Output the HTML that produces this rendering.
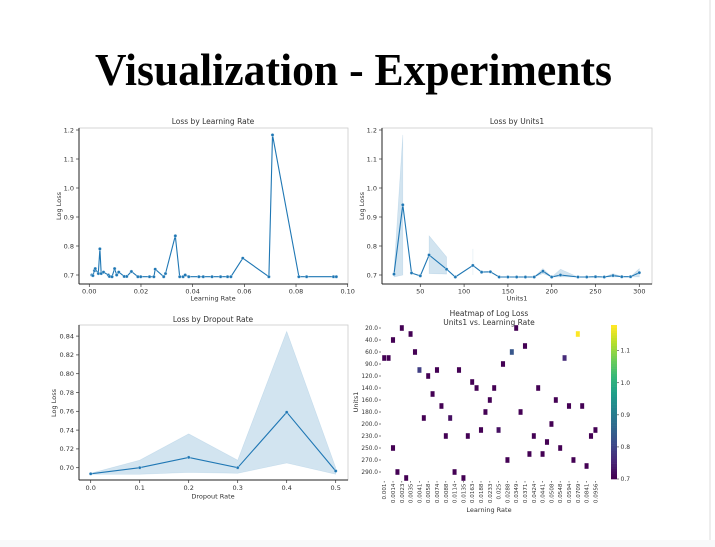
<!DOCTYPE html>
<html><head><meta charset="utf-8">
<style>
html,body{margin:0;padding:0;background:#fff;}
svg{display:block;}
text{font-family:"DejaVu Sans","Liberation Sans",sans-serif;fill:#333;}
</style></head>
<body>
<svg id="root" width="715" height="547" viewBox="0 0 715 547" xmlns="http://www.w3.org/2000/svg">
<rect x="0" y="0" width="715" height="547" fill="#fff"/>
<rect x="0" y="540" width="715" height="7" fill="#f8f9fa"/>
<line x1="710" y1="0" x2="710" y2="540" stroke="#ddd" stroke-width="1"/>
<text x="95" y="85" textLength="517" lengthAdjust="spacingAndGlyphs" style="font-family:'Liberation Serif',serif;font-weight:bold;font-size:45px;fill:#000">Visualization - Experiments</text>
<g id="p1"></g>
<g id="p2"></g>
<g id="p3"></g>
<g id="p4"></g>
</svg>
<script>
// ---- Chart 1: Loss by Learning Rate
const lrValues = [0.001,0.0014,0.002,0.0023,0.0035,0.0041,0.0046,0.0055,0.0074,0.0078,0.0088,0.0098,0.0106,0.0114,0.0135,0.0145,0.0163,0.0188,0.0199,0.0233,0.025,0.0255,0.0288,0.0295,0.0333,0.035,0.0363,0.0371,0.0385,0.0424,0.0441,0.0475,0.0508,0.0535,0.0548,0.0594,0.0695,0.0709,0.0811,0.0841,0.0945,0.0956];
const lrLoss = [0.70,0.698,0.715,0.722,0.705,0.79,0.705,0.71,0.70,0.695,0.694,0.722,0.70,0.71,0.695,0.695,0.712,0.694,0.694,0.694,0.694,0.72,0.694,0.705,0.835,0.694,0.694,0.70,0.694,0.694,0.694,0.694,0.694,0.694,0.694,0.758,0.694,1.183,0.694,0.694,0.694,0.694];
const lrXTicks = [0,0.02,0.04,0.06,0.08,0.10];
const lrXTickLabels = ["0.00","0.02","0.04","0.06","0.08","0.10"];
const lossYTicks = [0.7,0.8,0.9,1.0,1.1,1.2];
const lossYTickLabels = ["0.7","0.8","0.9","1.0","1.1","1.2"];
// ---- Chart 2: Loss by Units1 (null = no confidence interval)
const unitsValues = [20,30,40,50,60,80,90,110,120,130,140,150,160,170,180,190,200,210,230,240,250,260,270,280,290,300];
const unitsLoss = [0.703,0.942,0.707,0.697,0.769,0.72,0.693,0.733,0.71,0.711,0.693,0.693,0.693,0.693,0.693,0.713,0.693,0.70,0.693,0.693,0.694,0.693,0.698,0.694,0.694,0.708];
const unitsLow = [0.693,0.70,null,null,0.705,0.703,null,0.70,null,null,null,null,null,null,0.693,0.705,0.693,0.693,0.693,null,null,0.693,0.693,0.694,0.694,0.693];
const unitsHigh = [0.713,1.183,null,null,0.835,0.762,null,0.79,null,null,null,null,null,null,0.693,0.722,0.693,0.72,0.693,null,null,0.693,0.705,0.694,0.694,0.722];
const unitsXTicks = [50,100,150,200,250,300];
// ---- Chart 3: Loss by Dropout
const dropValues = [0.0,0.1,0.2,0.3,0.4,0.5];
const dropLoss = [0.6935,0.700,0.711,0.700,0.759,0.6965];
const dropLow = [0.693,0.693,0.695,0.694,0.705,0.693];
const dropHigh = [0.694,0.708,0.736,0.708,0.845,0.70];
const dropYTicks = [0.70,0.72,0.74,0.76,0.78,0.80,0.82,0.84];
// ---- Chart 4: Heatmap
const hmColLabels = ["0.001","0.0014","0.0023","0.0035","0.0041","0.0058","0.0074","0.0088","0.0114","0.0135","0.0163","0.0188","0.0233","0.025","0.0288","0.0349","0.0371","0.0424","0.0441","0.0508","0.0548","0.0594","0.0709","0.0841","0.0956"];
const hmRowValues = [20,30,40,50,60,80,90,110,120,130,140,150,160,170,180,190,200,210,230,240,250,260,270,280,290,300];
const hmRowLabels = ["20.0","40.0","60.0","90.0","120.0","140.0","160.0","180.0","200.0","230.0","250.0","270.0","290.0"];
const hmCellCol = [4,30,6,44,2,32,7,29,0,1,41,27,8,12,17,10,20,21,25,35,11,24,39,13,42,45,23,31,9,15,38,22,26,48,14,19,34,47,37,2,40,33,36,28,43,46,3,16,5,18];
const hmCellRow = [0,0,1,1,2,3,4,4,5,5,5,6,7,7,7,8,9,10,10,10,11,12,12,13,13,13,14,14,15,15,16,17,17,17,18,18,18,18,19,20,20,21,21,22,22,23,24,24,25,25];
const hmCellVal = [0.70,0.70,0.70,1.18,0.70,0.70,0.70,0.83,0.70,0.70,0.76,0.70,0.79,0.70,0.70,0.70,0.70,0.70,0.70,0.70,0.70,0.70,0.70,0.70,0.70,0.70,0.70,0.70,0.70,0.72,0.70,0.70,0.72,0.70,0.70,0.70,0.70,0.70,0.70,0.70,0.70,0.70,0.70,0.70,0.70,0.70,0.70,0.70,0.70,0.70];
const cbTicks = [0.7,0.8,0.9,1.0,1.1];

const NS="http://www.w3.org/2000/svg";
function mk(parent,tag,attrs,txt){const e=document.createElementNS(NS,tag);for(const k in attrs)e.setAttribute(k,attrs[k]);if(txt!==undefined)e.textContent=txt;parent.appendChild(e);return e;}
const BLUE="#1f77b4";

function frame(g,L,R,T,B){
  mk(g,'rect',{x:L,y:T,width:R-L,height:B-T,fill:'none',stroke:'#ccc','stroke-width':0.8});
  const a=mk(g,'line',{x1:L,y1:T,x2:L,y2:B,stroke:'#222','stroke-width':1});
  
  
  const b=mk(g,'line',{x1:L,y1:B,x2:R,y2:B,stroke:'#222','stroke-width':1});
  
  
}
function xTicks(g,vals,labels,sx,B,off){
  vals.forEach((v,i)=>{const x=sx(v);mk(g,'line',{x1:x,y1:B,x2:x,y2:B+3,stroke:'#333','stroke-width':0.7});
    const t=mk(g,'text',{x:x,y:B+off,'font-size':6.5,'text-anchor':'middle'},labels[i]);
    
    });
}
function yTicks(g,vals,labels,sy,L){
  vals.forEach((v,i)=>{const y=sy(v);mk(g,'line',{x1:L-3,y1:y,x2:L,y2:y,stroke:'#333','stroke-width':0.7});
    const t=mk(g,'text',{x:L-5,y:y+2.3,'font-size':6.5,'text-anchor':'end'},labels[i]);
    
    });
}
function titles(g,title,xl,yl,cx,ty,xly,ylx,cy){
  const t=mk(g,'text',{x:cx,y:ty,'font-size':7.5,'text-anchor':'middle'},title);
  
  
  const x=mk(g,'text',{x:cx,y:xly,'font-size':6.5,'text-anchor':'middle'},xl);
  
  
  const y=mk(g,'text',{x:ylx,y:cy,'font-size':6.5,'text-anchor':'middle',transform:`rotate(-90 ${ylx} ${cy})`},yl);
  
  
}
function line(g,xs,ys,sx,sy){
  const d=xs.map((v,i)=>(i?'L':'M')+sx(v).toFixed(1)+' '+sy(ys[i]).toFixed(1)).join(' ');
  const p=mk(g,'path',{d:d,fill:'none',stroke:BLUE,'stroke-width':1.1});
  
  
  xs.forEach((v,i)=>{const c=mk(g,'circle',{cx:sx(v),cy:sy(ys[i]),r:1.6,fill:BLUE,stroke:'#fff','stroke-width':0.3});
    
    });
}
function band(g,xs,lo,hi,sx,sy){
  // split into runs of defined values
  let runs=[],cur=[];
  xs.forEach((v,i)=>{if(lo[i]==null){if(cur.length)runs.push(cur);cur=[];}else cur.push(i);});
  if(cur.length)runs.push(cur);
  runs.forEach(run=>{
    let d='M'+run.map(i=>sx(xs[i]).toFixed(1)+' '+sy(hi[i]).toFixed(1)).join(' L');
    for(let k=run.length-1;k>=0;k--){const i=run[k];d+=' L'+sx(xs[i]).toFixed(1)+' '+sy(lo[i]).toFixed(1);}
    const p=mk(g,'path',{d:d+' Z',fill:BLUE,'fill-opacity':0.2,stroke:BLUE,'stroke-opacity':0.15,'stroke-width':0.6});
    
    
  });
}

// Chart 1
(function(){const g=document.getElementById('p1');const L=79,R=348,T=128,B=284;
  const sx=v=>89.3+v*2584, sy=v=>275-(v-0.7)*290;
  frame(g,L,R,T,B);xTicks(g,lrXTicks,lrXTickLabels,sx,B,9.5);yTicks(g,lossYTicks,lossYTickLabels,sy,L);
  titles(g,'Loss by Learning Rate','Learning Rate','Log Loss',213,124,300.5,61,206);
  line(g,lrValues,lrLoss,sx,sy);})();
// Chart 2
(function(){const g=document.getElementById('p2');const L=382,R=652,T=128,B=284;
  const sx=v=>420.3+(v-50)*0.876, sy=v=>275-(v-0.7)*290;
  frame(g,L,R,T,B);xTicks(g,unitsXTicks,unitsXTicks.map(String),sx,B,9.5);yTicks(g,lossYTicks,lossYTickLabels,sy,L);
  titles(g,'Loss by Units1','Units1','Log Loss',517,124,300.5,364,206);
  band(g,unitsValues,unitsLow,unitsHigh,sx,sy);line(g,unitsValues,unitsLoss,sx,sy);})();
// Chart 3
(function(){const g=document.getElementById('p3');const L=79,R=348,T=325,B=480;
  const sx=v=>90.7+v*490, sy=v=>467.7-(v-0.70)*940;
  frame(g,L,R,T,B);xTicks(g,dropValues,dropValues.map(v=>v.toFixed(1)),sx,B,10);yTicks(g,dropYTicks,dropYTicks.map(v=>v.toFixed(2)),sy,L);
  titles(g,'Loss by Dropout Rate','Dropout Rate','Log Loss',213,322,498.5,56,403);
  band(g,dropValues,dropLow,dropHigh,sx,sy);line(g,dropValues,dropLoss,sx,sy);})();
// Chart 4 heatmap
function viridis(t){const s=[[68,1,84],[72,40,120],[62,74,137],[49,104,142],[38,130,142],[31,158,137],[53,183,121],[109,205,89],[180,222,44],[253,231,37]];
  t=Math.max(0,Math.min(1,t))*(s.length-1);const i=Math.min(Math.floor(t),s.length-2),f=t-i;
  return 'rgb('+s[i].map((c,k)=>Math.round(c+(s[i+1][k]-c)*f)).join(',')+')';}
(function(){const g=document.getElementById('p4');const L=382,T=325,cw=4.4,rh=6,vmin=0.7,vmax=1.18;
  hmCellCol.forEach((c,i)=>{const r=mk(g,'rect',{x:L+c*cw,y:T+hmCellRow[i]*rh,width:cw,height:rh,fill:viridis((hmCellVal[i]-vmin)/(vmax-vmin)),stroke:'#fff','stroke-width':0.4});
    
    });
  const by=T+hmRowValues.length*rh;
  hmColLabels.forEach((lab,i)=>{const x=L+(2*i+0.5)*cw;mk(g,'line',{x1:x,y1:by,x2:x,y2:by+1.5,stroke:'#333','stroke-width':0.6});
    const t=mk(g,'text',{x:x+2,y:by+2.5,'font-size':5.6,'text-anchor':'end',transform:`rotate(-90 ${x+2} ${by+2.5})`},lab);
    
    });
  hmRowLabels.forEach((lab,i)=>{const y=T+(2*i+0.5)*rh;mk(g,'line',{x1:L-3,y1:y,x2:L-1,y2:y,stroke:'#333','stroke-width':0.6});
    const t=mk(g,'text',{x:L-4,y:y+2,'font-size':5.8,'text-anchor':'end'},lab);
    
    });
  const t1=mk(g,'text',{x:489,y:316,'font-size':7.5,'text-anchor':'middle'},'Heatmap of Log Loss');
  
  
  const t2=mk(g,'text',{x:489,y:325,'font-size':7.5,'text-anchor':'middle'},'Units1 vs. Learning Rate');
  
  
  const xl=mk(g,'text',{x:489,y:512,'font-size':6.5,'text-anchor':'middle'},'Learning Rate');
  
  
  const yl=mk(g,'text',{x:358,y:402,'font-size':6.5,'text-anchor':'middle',transform:'rotate(-90 358 402)'},'Units1');
  
  
  // colorbar
  const cb=mk(g,'g',{});
  
  
  const cT=325,cB=479,cL=611,cW=6,n=60;
  for(let k=0;k<n;k++){mk(cb,'rect',{x:cL,y:cB-(k+1)*(cB-cT)/n,width:cW,height:(cB-cT)/n+0.3,fill:viridis(k/(n-1))});}
  cbTicks.forEach(v=>{const y=cB-(v-vmin)/(vmax-vmin)*(cB-cT);mk(cb,'line',{x1:cL+cW,y1:y,x2:cL+cW+2,y2:y,stroke:'#333','stroke-width':0.6});
    const t=mk(cb,'text',{x:cL+cW+3.5,y:y+2,'font-size':6},v.toFixed(1));
    
    });
})();
</script>
</body></html>
